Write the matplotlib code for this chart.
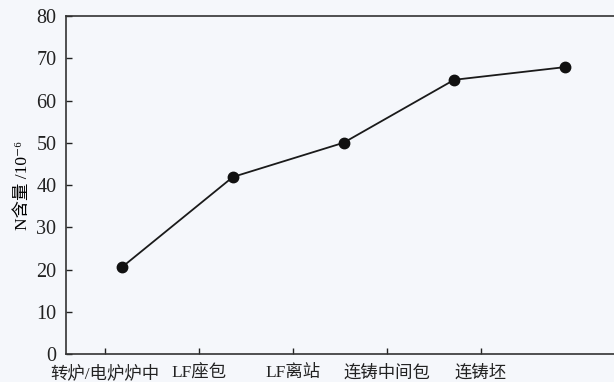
import numpy as np
import matplotlib
matplotlib.use("Agg")
import matplotlib.pyplot as plt

plt.rcParams['font.family'] = ['Liberation Serif', 'Noto Sans CJK SC', 'DejaVu Serif']

# data
stages = ["转炉/电炉炉中", "LF座包", "LF离站", "连铸中间包", "连铸坯"]
n_content = [20.6, 41.9, 50.0, 64.9, 67.9]
point_pos = [0, 1, 2, 3, 4]
# in the original the tick labels are not under the points
label_pos = [-0.154, 0.694, 1.542, 2.39, 3.238]
yticks = [0, 10, 20, 30, 40, 50, 60, 70, 80]

bg = '#f5f7fb'
fig = plt.figure(figsize=(6.14, 3.82), dpi=100, facecolor=bg)
ax = fig.add_axes([0.1075, 0.0733, 0.8925, 0.8848], facecolor=bg)

ax.plot(point_pos, n_content, color='#1a1a1a', lw=1.3,
        marker='o', ms=7.5, mfc='#111111', mec='#111111')

ax.set_xlim(-0.508, 4.444)
ax.set_ylim(0, 80)
ax.set_yticks(yticks)
ax.set_xticks(label_pos)
ax.set_xticklabels(stages)
ax.tick_params(axis='both', direction='in', length=4, width=1, colors='#222222')
ax.tick_params(axis='y', labelsize=14.5, pad=7)
ax.tick_params(axis='x', labelsize=12.5, pad=8)
for s in ['left', 'bottom', 'top']:
    ax.spines[s].set_linewidth(1.2)
    ax.spines[s].set_color('#333333')
ax.spines['right'].set_visible(False)

ax.set_ylabel("N含量 /10⁻⁶", fontsize=12.5, labelpad=4)

fig.savefig("out.png", dpi=100, facecolor=bg)
